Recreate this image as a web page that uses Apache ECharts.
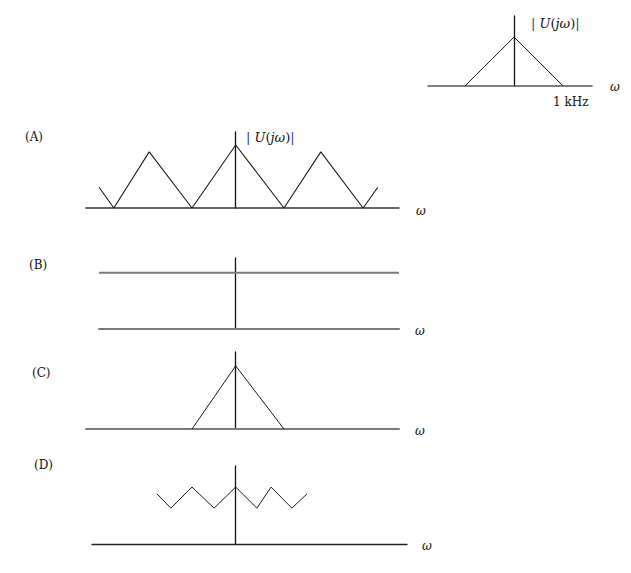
<!DOCTYPE html>
<html><head><meta charset="utf-8">
<script src="https://cdn.jsdelivr.net/npm/echarts@6/dist/echarts.min.js"></script>
<style>html,body{margin:0;background:#fff}#c{width:631px;height:573px}</style>
</head><body><div id="c"></div>
<script>
// Reference spectrum |U(jω)| (ω in kHz)
const refX = [-1, 0, 1];
const refY = [0, 1, 0];
// (A) periodic replicas
const aX = [-2.97, -2.65, -1.88, -0.95, 0, 1.05, 1.85, 2.77, 3.09];
const aY = [0.33, 0, 0.89, 0, 1, 0, 0.89, 0, 0.33];
// (B) flat spectrum
const bX = [-2.97, 3.55];
const bY = [1, 1];
// (C) single triangle
const cX = [-0.95, 0, 1.05];
const cY = [0, 1, 0];
// (D) zigzag
const dX = [-1.71, -1.41, -0.95, -0.47, 0, 0.46, 0.77, 1.22, 1.55];
const dY = [0.88, 0.63, 1, 0.63, 1, 0.63, 1, 0.63, 0.88];
const panelLabels = ['(A)', '(B)', '(C)', '(D)'];
const axisName = 'ω';
const tickText = '1 kHz';

const zip = (xs, ys) => xs.map((x, i) => [x, ys[i]]);

const panels = [
  {grid:{left:428, top:16, width:164, height:70}, x:[-1.755,1.59], y:[0,1.43], data:zip(refX,refY), axisColor:'#555', axisW:1.6, lineColor:'#1a1a1a', lineW:1},
  {grid:{left:86, top:132, width:313, height:76}, x:[-3.254,3.55], y:[0,1.206], data:zip(aX,aY), axisColor:'#333', axisW:1.5, lineColor:'#1a1a1a', lineW:1.1},
  {grid:{left:99, top:258, width:300, height:71}, x:[-2.972,3.55], y:[0,1.26], data:zip(bX,bY), axisColor:'#7a7a7a', axisW:2, lineColor:'#7a7a7a', lineW:2},
  {grid:{left:86, top:352, width:313, height:77}, x:[-3.254,3.55], y:[0,1.22], data:zip(cX,cY), axisColor:'#7a7a7a', axisW:2, lineColor:'#1a1a1a', lineW:1},
  {grid:{left:92, top:466, width:315, height:78}, x:[-3.124,3.724], y:[0,1.37], data:zip(dX,dY), axisColor:'#222', axisW:1.3, lineColor:'#1a1a1a', lineW:1}
];

const grids = [], xAxes = [], yAxes = [], series = [];
panels.forEach((p, i) => {
  grids.push(Object.assign({containLabel:false}, p.grid));
  xAxes.push({type:'value', gridIndex:i, min:p.x[0], max:p.x[1],
    axisLine:{show:true, onZero:true, lineStyle:{color:p.axisColor, width:p.axisW}},
    axisTick:{show:false}, axisLabel:{show:false}, splitLine:{show:false}});
  yAxes.push({type:'value', gridIndex:i, min:p.y[0], max:p.y[1],
    axisLine:{show:true, onZero:true, lineStyle:{color:'#111', width:1.3}},
    axisTick:{show:false}, axisLabel:{show:false}, splitLine:{show:false}});
  series.push({type:'line', xAxisIndex:i, yAxisIndex:i, data:p.data, showSymbol:false,
    lineStyle:{color:p.lineColor, width:p.lineW}, silent:true});
});

const serif = '"DejaVu Serif","Liberation Serif",serif';
const umag = {
  rich:{
    b:{fontFamily:serif, fontSize:13, fill:'#1f3a8a', color:'#1f3a8a'},
    i:{fontFamily:serif, fontSize:13, fontStyle:'italic', fill:'#111', color:'#111'},
    n:{fontFamily:serif, fontSize:13, fill:'#111', color:'#111'}
  },
  text:'{b||} {i|U}{n|(}{i|jω}{n|)}{b||}'
};
function txt(x, y, text, opts) {
  return {type:'text', x:x, y:y, silent:true,
    style:Object.assign({text:text, fontFamily:serif, fontSize:13, fill:'#111', textVerticalAlign:'middle', verticalAlign:'middle'}, opts||{})};
}
const graphics = [
  txt(531, 23, umag.text, {rich:umag.rich}),
  txt(553, 102, tickText, {fontSize:12}),
  txt(610, 87, axisName, {fontStyle:'italic', fontSize:12}),
  txt(25, 137, panelLabels[0], {fontSize:12}),
  txt(246, 137, umag.text, {rich:umag.rich}),
  txt(416, 211, axisName, {fontStyle:'italic', fontSize:12}),
  txt(29, 265, panelLabels[1], {fontSize:12}),
  txt(415, 331, axisName, {fontStyle:'italic', fontSize:12}),
  txt(32, 373, panelLabels[2], {fontSize:12}),
  txt(415, 431, axisName, {fontStyle:'italic', fontSize:12}),
  txt(34, 465, panelLabels[3], {fontSize:12}),
  txt(422, 546, axisName, {fontStyle:'italic', fontSize:12})
];

const chart = echarts.init(document.getElementById('c'), null, {renderer:'svg'});
chart.setOption({
  animation:false,
  backgroundColor:'#fff',
  grid:grids, xAxis:xAxes, yAxis:yAxes, series:series,
  graphic:graphics
});
</script>
</body></html>
